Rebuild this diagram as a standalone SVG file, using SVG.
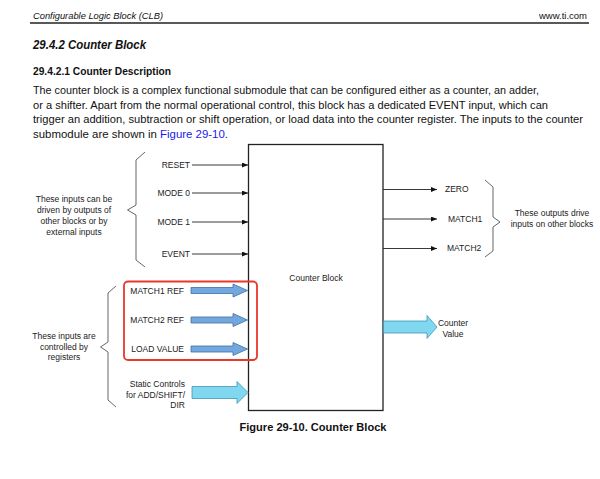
<svg xmlns="http://www.w3.org/2000/svg" width="600" height="479" viewBox="0 0 600 479">
<style>
text{font-family:"Liberation Sans",Arial,sans-serif;fill:#111}
.hdr{font-size:9.5px;font-style:italic}
.para{font-size:11.5px}
.lbl{font-size:8.5px;fill:#222}
.note{font-size:8.5px;fill:#222;text-anchor:middle}
.thin{stroke:#222;stroke-width:0.9;fill:none}
.brace{stroke:#555;stroke-width:0.9;fill:none}
.blue{fill:#73A8DE;stroke:#3F6FA6;stroke-width:0.8}
.cyan{fill:#7FD8F0;stroke:#3D97B5;stroke-width:0.8}
</style>
<defs>
<marker id="ah" markerWidth="6" markerHeight="5" refX="6" refY="2.5" orient="auto" markerUnits="userSpaceOnUse">
<path d="M0,0 L6,2.5 L0,5 z" fill="#111"/>
</marker>
</defs>
<rect width="600" height="479" fill="#fff"/>

<g id="page-header">
<text class="hdr" x="33" y="19" textLength="130" lengthAdjust="spacingAndGlyphs">Configurable Logic Block (CLB)</text>
<text class="hdr" x="587" y="19" text-anchor="end" style="font-style:normal">www.ti.com</text>
<line x1="30" y1="23" x2="589" y2="23" stroke="#222" stroke-width="1.3"/>
</g>

<g id="section-text">
<text x="33" y="49" style="font-size:12px;font-weight:bold;font-style:italic" textLength="113" lengthAdjust="spacingAndGlyphs">29.4.2 Counter Block</text>
<text x="33" y="75" style="font-size:10.5px;font-weight:bold" textLength="138" lengthAdjust="spacingAndGlyphs">29.4.2.1 Counter Description</text>
<text class="para" x="33" y="94" textLength="506" lengthAdjust="spacingAndGlyphs">The counter block is a complex functional submodule that can be configured either as a counter, an adder,</text>
<text class="para" x="33" y="108.5" textLength="515" lengthAdjust="spacingAndGlyphs">or a shifter. Apart from the normal operational control, this block has a dedicated EVENT input, which can</text>
<text class="para" x="33" y="123" textLength="550" lengthAdjust="spacingAndGlyphs">trigger an addition, subtraction or shift operation, or load data into the counter register. The inputs to the counter</text>
<text class="para" x="33" y="137.5" textLength="195" lengthAdjust="spacingAndGlyphs">submodule are shown in <tspan fill="#1a1aee">Figure 29-10</tspan>.</text>
</g>

<g id="counter-block">
<rect x="248.5" y="144.5" width="134.5" height="266" fill="#fff" stroke="#222" stroke-width="1.3"/>
<text class="note" x="316" y="281">Counter Block</text>
</g>

<g id="input-labels">
<text class="lbl" x="190" y="168" text-anchor="end">RESET</text>
<text class="lbl" x="190" y="196" text-anchor="end">MODE 0</text>
<text class="lbl" x="190" y="225" text-anchor="end">MODE 1</text>
<text class="lbl" x="190" y="257" text-anchor="end">EVENT</text>
<text class="lbl" x="184" y="294" text-anchor="end">MATCH1 REF</text>
<text class="lbl" x="184" y="323" text-anchor="end">MATCH2 REF</text>
<text class="lbl" x="184" y="352" text-anchor="end">LOAD VALUE</text>
<text class="lbl" x="185" y="387" text-anchor="end">Static Controls</text>
<text class="lbl" x="185" y="397.5" text-anchor="end">for ADD/SHIFT/</text>
<text class="lbl" x="185" y="408" text-anchor="end">DIR</text>
</g>

<g id="output-labels">
<text class="lbl" x="445" y="192">ZERO</text>
<text class="lbl" x="448" y="222">MATCH1</text>
<text class="lbl" x="447" y="251">MATCH2</text>
<text class="note" x="453" y="326">Counter</text>
<text class="note" x="453" y="336.5">Value</text>
</g>

<g id="register-group">
<rect x="124" y="281.5" width="133" height="78.5" rx="4" fill="none" stroke="#E8372C" stroke-width="1.8"/>
</g>

<g id="note-external">
<path class="brace" d="M145,152 L136,160 L136,205 L127.5,210 L136,215 L136,260 L145,267"/>
<text class="note" x="74" y="202">These inputs can be</text>
<text class="note" x="74" y="213">driven by outputs of</text>
<text class="note" x="74" y="224">other blocks or by</text>
<text class="note" x="74" y="234.5">external inputs</text>
</g>

<g id="note-registers">
<path class="brace" d="M116,286 L108,293 L108,342 L100.5,347 L108,352 L108,400 L116,407"/>
<text class="note" x="64" y="339">These inputs are</text>
<text class="note" x="64" y="349.5">controlled by</text>
<text class="note" x="64" y="360">registers</text>
</g>

<g id="note-outputs">
<path class="brace" d="M485,180 L493,187 L493,217 L500,222 L493,227 L493,251 L485,257"/>
<text class="note" x="552" y="215.5">These outputs drive</text>
<text class="note" x="552" y="226.5">inputs on other blocks</text>
</g>

<g id="connectors">
<line class="thin" x1="192" y1="165" x2="248" y2="165" marker-end="url(#ah)"/>
<line class="thin" x1="192" y1="193" x2="248" y2="193" marker-end="url(#ah)"/>
<line class="thin" x1="192" y1="222" x2="248" y2="222" marker-end="url(#ah)"/>
<line class="thin" x1="192" y1="254" x2="248" y2="254" marker-end="url(#ah)"/>
<line class="thin" x1="383" y1="189.5" x2="437" y2="189.5" marker-end="url(#ah)"/>
<line class="thin" x1="383" y1="219" x2="437" y2="219" marker-end="url(#ah)"/>
<line class="thin" x1="383" y1="248.5" x2="437" y2="248.5" marker-end="url(#ah)"/>
<polygon class="blue" points="191,287.5 233,287.5 233,284 247.5,290.5 233,297 233,293.5 191,293.5"/>
<polygon class="blue" points="191,317 233,317 233,313.5 247.5,320 233,326.5 233,323 191,323"/>
<polygon class="blue" points="191,346 233,346 233,342.5 247.5,349 233,355.5 233,352 191,352"/>
<polygon class="cyan" points="192,386.5 237,386.5 237,381.5 248,392.5 237,403.5 237,398.5 192,398.5"/>
<polygon class="cyan" points="383.5,321 427,321 427,315.5 437,327 427,338.5 427,333 383.5,333"/>
</g>

<g id="caption">
<text x="239.5" y="431" style="font-size:11px;font-weight:bold" textLength="147" lengthAdjust="spacingAndGlyphs">Figure 29-10. Counter Block</text>
</g>
</svg>
